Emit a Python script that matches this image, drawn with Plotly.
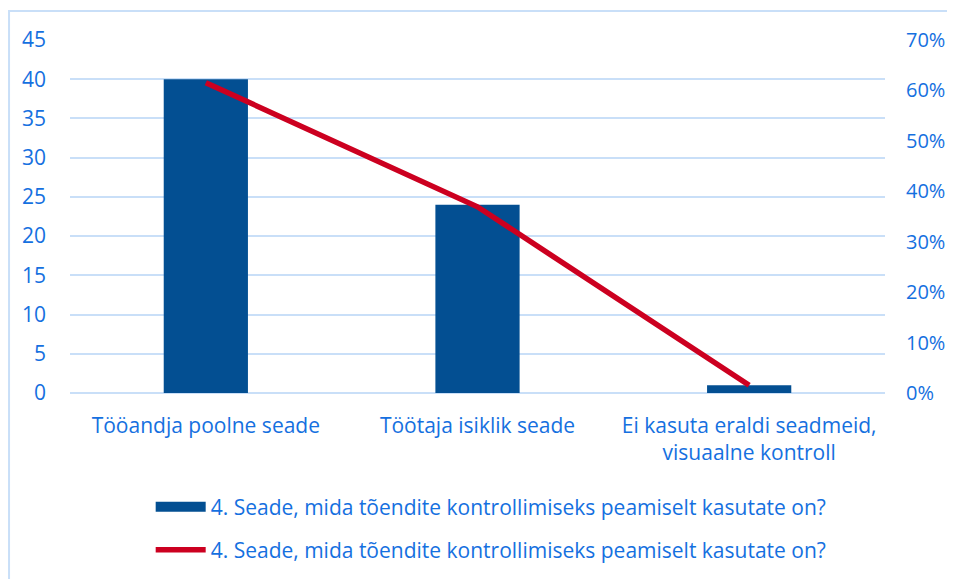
import plotly.graph_objects as go

categories = ["Tööandja poolne seade", "Töötaja isiklik seade", "Ei kasuta eraldi seadmeid,<br>visuaalne kontroll"]
counts = [40, 24, 1]
shares = [c / sum(counts) for c in counts]
series_name = "4. Seade, mida tõendite kontrollimiseks peamiselt kasutate on?"
left_ticks = [0, 5, 10, 15, 20, 25, 30, 35, 40, 45]
right_ticks = [0, 0.1, 0.2, 0.3, 0.4, 0.5, 0.6, 0.7]

TXT = "#1570E0"
GRID = "#C9DFF8"
BAR = "#034F92"
LINE = "#CC0020"
FONT = "Open Sans, Liberation Sans, sans-serif"
FS = 21

fig = go.Figure()
fig.add_trace(go.Bar(x=categories, y=counts, name=series_name, showlegend=False,
                     marker=dict(color=BAR, line=dict(width=0)), width=0.31))
# legend entry for the bar series (wide rectangle swatch)
fig.add_trace(go.Scatter(x=[None], y=[None], name=series_name, legend="legend",
                         mode="lines", line=dict(color=BAR, width=13)))
fig.add_trace(go.Scatter(x=categories, y=shares, name=series_name, yaxis="y2", legend="legend2",
                         mode="lines", line=dict(color=LINE, width=5.5)))

leg_common = dict(orientation="v", xanchor="left", yanchor="middle", x=0.099,
                  font=dict(size=FS, color=TXT, family=FONT), itemwidth=50,
                  bgcolor="rgba(0,0,0,0)")

fig.update_layout(
    width=947, height=571,
    margin=dict(l=62, r=70, t=32, b=186, autoexpand=False),
    paper_bgcolor="white", plot_bgcolor="white",
    font=dict(family=FONT, size=FS, color=TXT),
    showlegend=True,
    legend=dict(y=-0.323, **leg_common),
    legend2=dict(y=-0.445, **leg_common),
    xaxis=dict(showgrid=False, showline=False, ticks="", automargin=False,
               tickfont=dict(size=FS, color=TXT), ticklabelstandoff=18),
    yaxis=dict(range=[0, 45], tickvals=left_ticks, showgrid=True, gridcolor=GRID, gridwidth=2,
               zeroline=True, zerolinecolor=GRID, zerolinewidth=2, ticks="", automargin=False,
               tickfont=dict(size=FS, color=TXT), ticklabelstandoff=23),
    yaxis2=dict(range=[0, 0.7], tickvals=right_ticks, tickformat=".0%", overlaying="y",
                side="right", showgrid=False, zeroline=False, ticks="", automargin=False,
                tickfont=dict(size=20, color=TXT), ticklabelstandoff=20),
    bargap=0.69,
    shapes=[dict(type="rect", xref="paper", yref="paper", x0=-0.0748, x1=1.2, y0=-0.7, y1=1.082,
                 line=dict(color=GRID, width=2), fillcolor="rgba(0,0,0,0)")],
)

fig.write_html("out.html")
